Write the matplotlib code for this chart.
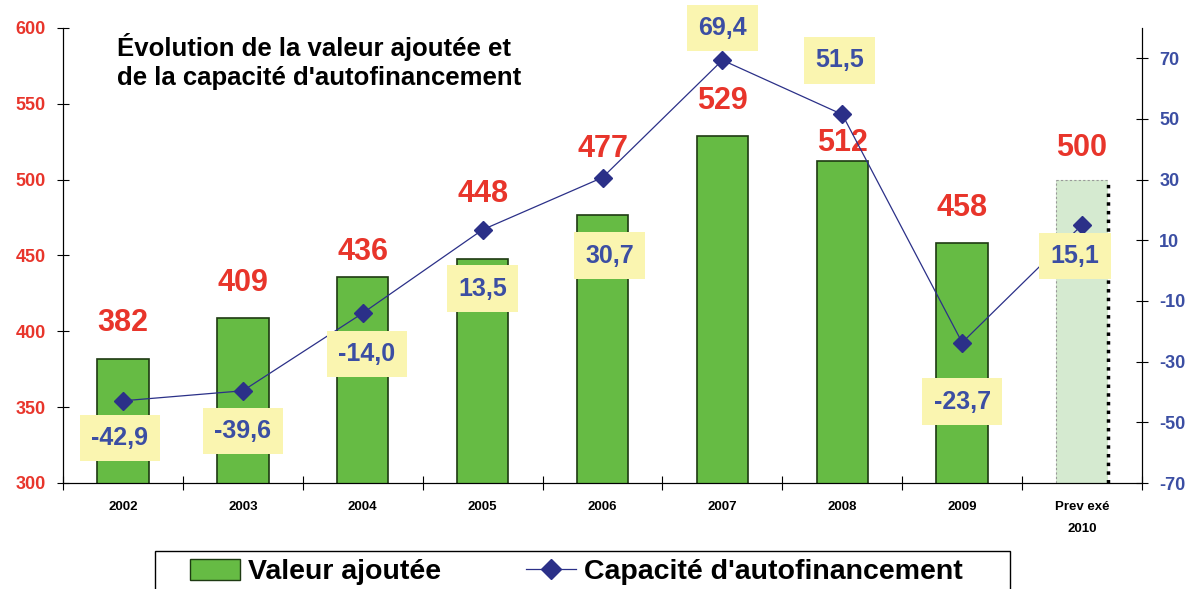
import numpy as np
import matplotlib.pyplot as plt
from matplotlib.lines import Line2D
from matplotlib.patches import Patch, Rectangle

plt.rcParams['font.family'] = ['Liberation Sans', 'DejaVu Sans']
plt.rcParams['axes.unicode_minus'] = False

years = ['2002', '2003', '2004', '2005', '2006', '2007', '2008', '2009', 'Prev exé\n2010']
valeur_ajoutee = [382, 409, 436, 448, 477, 529, 512, 458, 500]
capacite = [-42.9, -39.6, -14.0, 13.5, 30.7, 69.4, 51.5, -23.7, 15.1]

# label placement (pixels relative to the mark)
va_label_dy = [36, 35, 25, 65, 66, 35, 18, 35, 32]
caf_label_off = [(-3, -37), (0, -40), (4, -41), (0, -59), (7, -78),
                 (0, 32), (-3, 54), (0, -59), (-7, -31)]

RED = '#e8352b'
BLUE = '#3b4ea3'
NAVY = '#2b3088'
GREEN = '#66bb44'
PALE = '#d5ead0'
YELLOW = '#faf5b0'

W, H = 1196, 589
fig = plt.figure(figsize=(W / 100, H / 100), dpi=100)
ax = fig.add_axes([63 / W, 1 - 483 / H, (1142 - 63) / W, (483 - 28) / H])
ax2 = ax.twinx()

x = np.arange(len(years))
colors = [GREEN] * (len(years) - 1) + [PALE]
edges = ['#1e3a12'] * (len(years) - 1) + ['none']
bars = ax.bar(x, valeur_ajoutee, width=0.43, color=colors, edgecolor=edges, linewidth=1.2, zorder=2)

# forecast bar outline
last = bars[-1]
x0, w, h = last.get_x(), last.get_width(), last.get_height()
ax.plot([x0, x0], [300, h], color='#999999', lw=0.8, ls=(0, (2, 2)), zorder=3)
ax.plot([x0, x0 + w], [h, h], color='#999999', lw=0.8, ls=(0, (2, 2)), zorder=3)
ax.plot([x0 + w, x0 + w], [300, h], color='black', lw=2.5, ls=(0, (1, 1.5)), zorder=3)

ax.set_xlim(-0.5, len(years) - 0.5)
ax.set_ylim(300, 600)
ax.set_yticks(np.arange(300, 601, 50))
ax.tick_params(axis='y', direction='inout', length=9, colors='black', labelcolor=RED, labelsize=13, pad=8)
for lab in ax.get_yticklabels():
    lab.set_fontweight('bold')

ax.set_xticks(np.arange(-0.5, len(years), 1))
ax.set_xticklabels([])
ax.tick_params(axis='x', which='major', direction='inout', length=10)
ax.set_xticks(x, minor=True)
ax.set_xticklabels(years, minor=True, fontsize=9.5, fontweight='bold', linespacing=2.1)
ax.tick_params(axis='x', which='minor', length=0, pad=13)

for s in ['top']:
    ax.spines[s].set_visible(False)
    ax2.spines[s].set_visible(False)

ax2.plot(x, capacite, color=NAVY, lw=0.9, marker='D', markersize=9, zorder=4)
ax2.set_ylim(-70, 80)
ax2.set_yticks(np.arange(-70, 71, 20))
ax2.tick_params(axis='y', direction='inout', length=9, labelcolor=BLUE, labelsize=13, pad=8)
for lab in ax2.get_yticklabels():
    lab.set_fontweight('bold')

for xi, v, dy in zip(x, valeur_ajoutee, va_label_dy):
    ax.annotate(str(v), (xi, v), xytext=(0, dy), textcoords='offset pixels',
                ha='center', va='center', color=RED, fontsize=22, fontweight='bold', zorder=5)

for xi, v, (dx, dy) in zip(x, capacite, caf_label_off):
    ax2.annotate(f'{v:.1f}'.replace('.', ','), (xi, v), xytext=(dx, dy), textcoords='offset pixels',
                 ha='center', va='center', color=BLUE, fontsize=18, fontweight='bold', zorder=6,
                 bbox=dict(boxstyle='square,pad=0.45', fc=YELLOW, ec='none'))

ax.text(0.05, 0.99, "Évolution de la valeur ajoutée et\nde la capacité d'autofinancement",
        transform=ax.transAxes, ha='left', va='top', fontsize=18.5, fontweight='bold', linespacing=1.3)

# legend box, cut by the bottom edge of the figure
fig.patches.append(Rectangle((155 / W, -0.05), (1010 - 155) / W, 0.05 + 1 - 551 / H,
                             transform=fig.transFigure, fill=False, ec='black', lw=1.0))
handles = [Patch(facecolor=GREEN, edgecolor='#1e3a12', label='Valeur ajoutée'),
           Line2D([], [], color=NAVY, marker='D', markersize=10, lw=0.9, label="Capacité d'autofinancement")]
fig.legend(handles=handles, loc='center left', bbox_to_anchor=(190 / W, 1 - 572 / H),
           ncol=2, frameon=False, columnspacing=3.0, handlelength=1.75, handleheight=0.75,
           handletextpad=0.28, borderpad=0, borderaxespad=0,
           prop={'size': 20.5, 'weight': 'bold'})

fig.savefig('out.png', dpi=100)
